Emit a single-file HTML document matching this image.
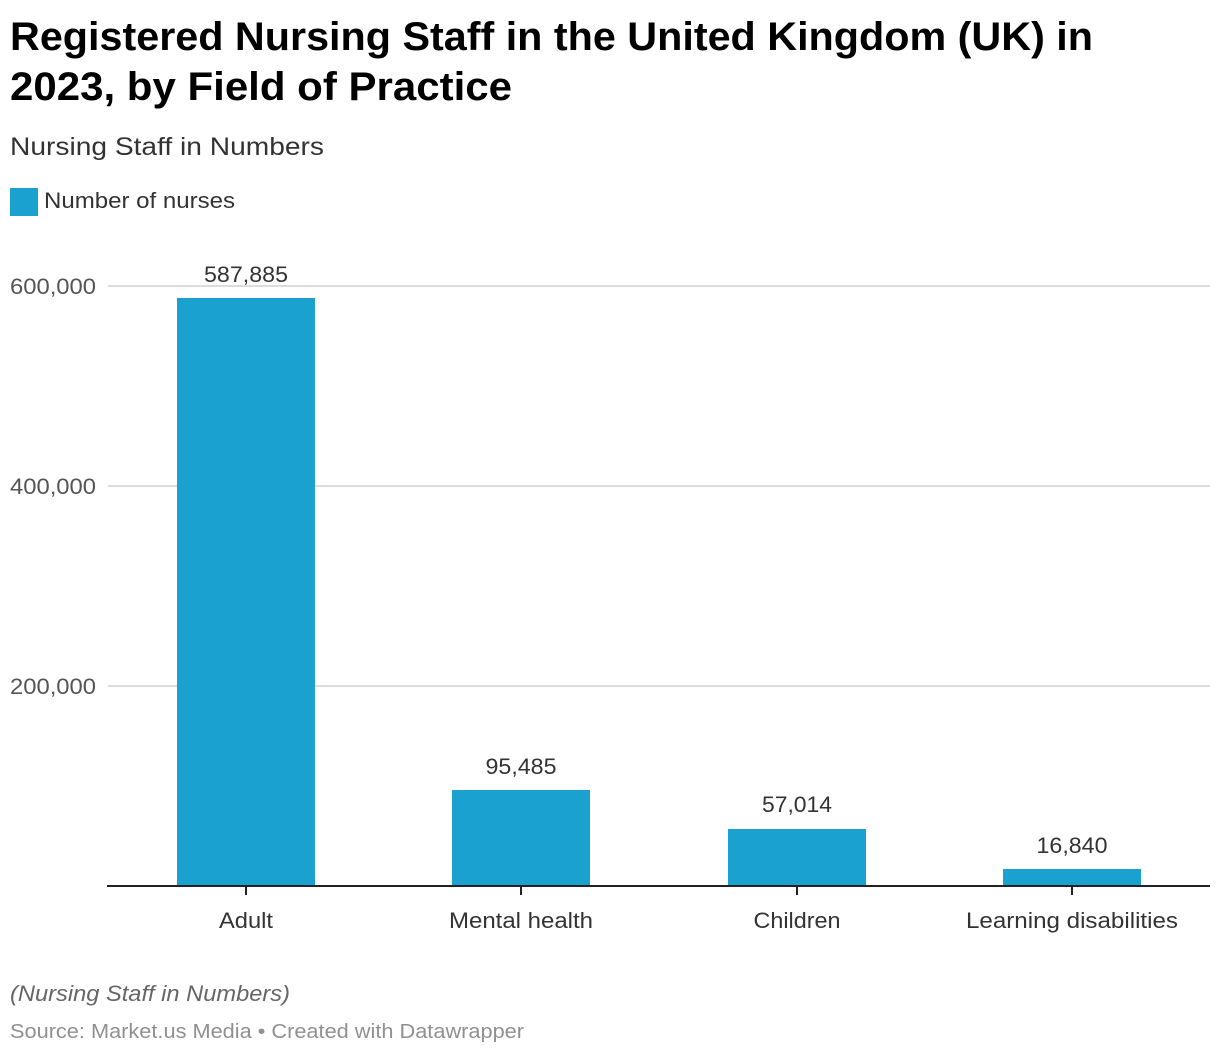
<!DOCTYPE html>
<html><head><meta charset="utf-8"><style>
html,body{margin:0;padding:0;background:#fff;width:1220px;height:1054px;overflow:hidden;font-family:"Liberation Sans",sans-serif;}
</style></head><body>
<svg width="1220" height="1054" xmlns="http://www.w3.org/2000/svg" font-family="Liberation Sans, sans-serif">
<text x="10" y="50" font-size="40" font-weight="bold" fill="#000" textLength="1083" lengthAdjust="spacingAndGlyphs">Registered Nursing Staff in the United Kingdom (UK) in</text>
<text x="10" y="100" font-size="40" font-weight="bold" fill="#000" textLength="502" lengthAdjust="spacingAndGlyphs">2023, by Field of Practice</text>
<text x="10" y="155" font-size="25" fill="#333" textLength="314" lengthAdjust="spacingAndGlyphs">Nursing Staff in Numbers</text>
<rect x="10" y="188" width="28" height="28" fill="#1ba1cf"/>
<text x="44" y="208" font-size="22" fill="#333" textLength="191" lengthAdjust="spacingAndGlyphs">Number of nurses</text>
<g stroke="#d0d0d0" stroke-width="1.5">
<line x1="108" y1="286" x2="1210" y2="286"/>
<line x1="108" y1="486" x2="1210" y2="486"/>
<line x1="108" y1="686" x2="1210" y2="686"/>
</g>
<g font-size="22" fill="#555">
<text x="10" y="294" textLength="86" lengthAdjust="spacingAndGlyphs">600,000</text>
<text x="10" y="494" textLength="86" lengthAdjust="spacingAndGlyphs">400,000</text>
<text x="10" y="694" textLength="86" lengthAdjust="spacingAndGlyphs">200,000</text>
</g>
<g fill="#1ba1cf">
<rect x="177" y="298" width="138" height="588"/>
<rect x="452" y="790" width="138" height="96"/>
<rect x="728" y="829" width="138" height="57"/>
<rect x="1003" y="869" width="138" height="17"/>
</g>
<line x1="107" y1="886" x2="1210" y2="886" stroke="#222" stroke-width="2"/>
<g stroke="#222" stroke-width="2">
<line x1="246" y1="886" x2="246" y2="895"/>
<line x1="521" y1="886" x2="521" y2="895"/>
<line x1="797" y1="886" x2="797" y2="895"/>
<line x1="1072" y1="886" x2="1072" y2="895"/>
</g>
<g font-size="22" fill="#333" text-anchor="middle">
<text x="246" y="282" textLength="84" lengthAdjust="spacingAndGlyphs">587,885</text>
<text x="521" y="774" textLength="71" lengthAdjust="spacingAndGlyphs">95,485</text>
<text x="797" y="812" textLength="70" lengthAdjust="spacingAndGlyphs">57,014</text>
<text x="1072" y="853" textLength="71" lengthAdjust="spacingAndGlyphs">16,840</text>
<text x="246" y="928" textLength="54" lengthAdjust="spacingAndGlyphs">Adult</text>
<text x="521" y="928" textLength="144" lengthAdjust="spacingAndGlyphs">Mental health</text>
<text x="797" y="928" textLength="87" lengthAdjust="spacingAndGlyphs">Children</text>
<text x="1072" y="928" textLength="212" lengthAdjust="spacingAndGlyphs">Learning disabilities</text>
</g>
<text x="10" y="1001" font-size="22" font-style="italic" fill="#666" textLength="280" lengthAdjust="spacingAndGlyphs">(Nursing Staff in Numbers)</text>
<text x="10" y="1038" font-size="20" fill="#909090" textLength="514" lengthAdjust="spacingAndGlyphs">Source: Market.us Media • Created with Datawrapper</text>
</svg>
</body></html>
